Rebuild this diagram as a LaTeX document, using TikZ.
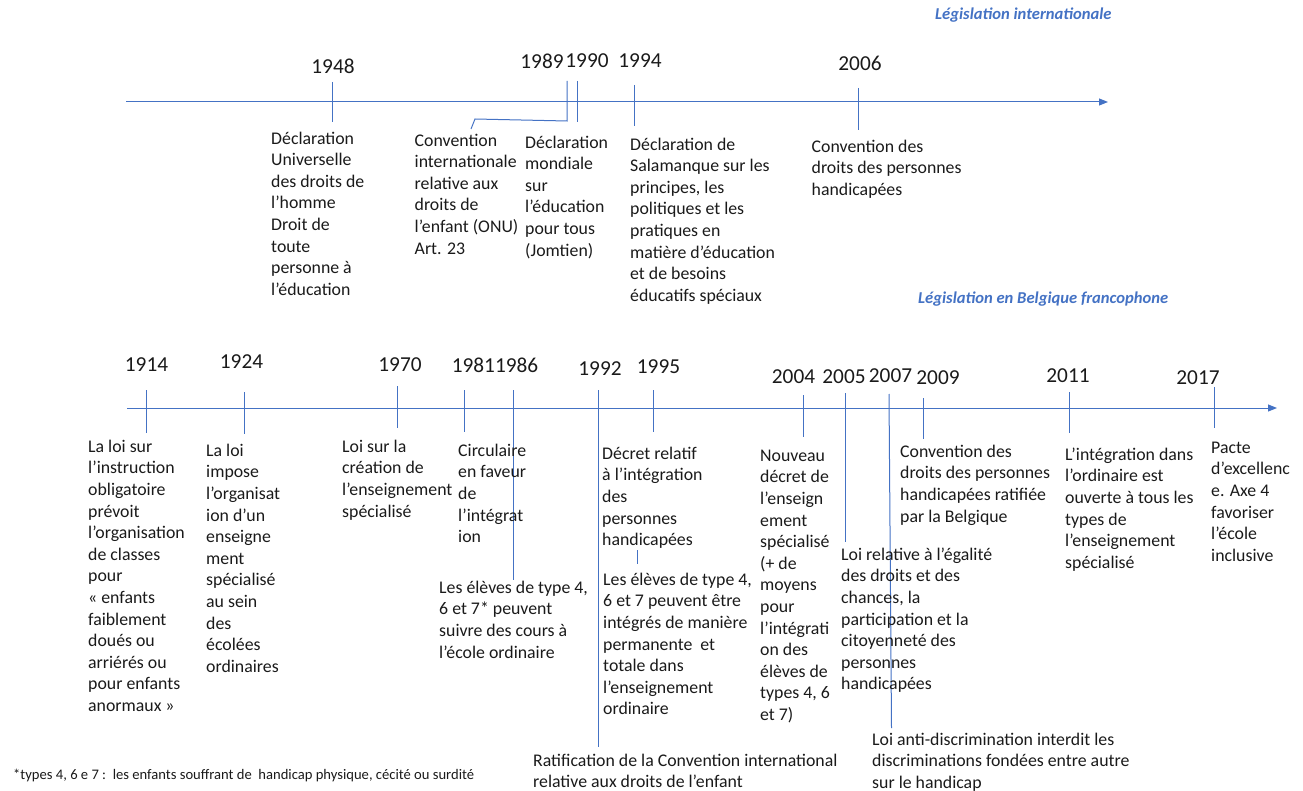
\documentclass[tikz,border=0pt]{standalone}
\usepackage{fontspec}
\setmainfont{Carlito}
\usetikzlibrary{arrows.meta}
\definecolor{lblue}{HTML}{4472C4}
\definecolor{txt}{HTML}{1A1A1A}
\tikzset{
  axisline/.style={draw=lblue, line width=1pt, -{Triangle[length=9pt,width=7pt]}},
  tickline/.style={draw=lblue, line width=1pt},
  yearlbl/.style={inner sep=0pt, font=\fontsize{21.3}{24}\selectfont, text=txt},
  desc/.style={anchor=north west, inner sep=0pt, align=left, font=\fontsize{17.8}{21.6}\selectfont, text=txt},
  legendlbl/.style={anchor=west, inner sep=0pt, font=\fontsize{16.6}{20}\selectfont\bfseries\itshape, text=lblue},
  footlbl/.style={anchor=west, inner sep=0pt, font=\fontsize{14.6}{17}\selectfont, text=txt},
}
\newcommand{\fs}{\rule{0pt}{13pt}}
\begin{document}
\begin{tikzpicture}[x=1pt,y=-1pt]
\useasboundingbox (0,0) rectangle (1303,791);

% ---------- top timeline ----------
\coordinate (TA0) at (126,102);
\coordinate (TA1) at (1108,102);
\draw[axisline] (TA0) -- (TA1);

\node[legendlbl] (LegInt) at (935,15) {Législation internationale};

\node[yearlbl] (Y1948) at (333,66) {1948};
\node[yearlbl] (Y1989) at (542,61) {1989};
\node[yearlbl] (Y1990) at (587,61) {1990};
\node[yearlbl] (Y1994) at (640,61) {1994};
\node[yearlbl] (Y2006) at (860,63) {2006};

\coordinate (t1948a) at (332,82);  \coordinate (t1948b) at (332,122);
\coordinate (t1989a) at (567,81);  \coordinate (t1989b) at (567,121);
\coordinate (t1989c) at (475,119); \coordinate (t1989d) at (471,129);
\coordinate (t1990a) at (577,81);  \coordinate (t1990b) at (577,122);
\coordinate (t1994a) at (634,85);  \coordinate (t1994b) at (634,126);
\coordinate (t2006a) at (858.5,88); \coordinate (t2006b) at (858.5,130);
\draw[tickline] (t1948a) -- (t1948b);
\draw[tickline] (t1989a) -- (t1989b) -- (t1989c) -- (t1989d);
\draw[tickline] (t1990a) -- (t1990b);
\draw[tickline] (t1994a) -- (t1994b);
\draw[tickline] (t2006a) -- (t2006b);

\node[desc] (A1948) at (271,131) {\fs Déclaration\\Universelle\\des droits de\\l’homme\\Droit de\\toute\\personne à\\l’éducation};
\node[desc] (A1989) at (414.5,133) {\fs Convention\\internationale\\relative aux\\droits de\\l’enfant (ONU)\\Art. 23};
\node[desc] (A1990) at (525,135) {\fs Déclaration\\mondiale\\sur\\l’éducation\\pour tous\\(Jomtien)};
\node[desc] (A1994) at (630,137) {\fs Déclaration de\\Salamanque sur les\\principes, les\\politiques et les\\pratiques en\\matière d’éducation\\et de besoins\\éducatifs spéciaux};
\node[desc] (A2006) at (811.5,139) {\fs Convention des\\droits des personnes\\handicapées};

% ---------- bottom timeline ----------
\node[legendlbl] (LegBel) at (918,299) {Législation en Belgique francophone};

\coordinate (BA0) at (127,408);
\coordinate (BA1) at (1277,408);
\draw[axisline] (BA0) -- (BA1);

\node[yearlbl] (Y1914) at (146.5,365) {1914};
\node[yearlbl] (Y1924) at (241.5,362) {1924};
\node[yearlbl] (Y1970) at (400,365) {1970};
\node[yearlbl] (Y1981) at (495,365) {19811986};
\node[yearlbl] (Y1992) at (600,369) {1992};
\node[yearlbl] (Y1995) at (658.5,367) {1995};
\node[yearlbl] (Y2004) at (793.5,377) {2004};
\node[yearlbl] (Y2005) at (844,377) {2005};
\node[yearlbl] (Y2007) at (890.5,376) {2007};
\node[yearlbl] (Y2009) at (938,378) {2009};
\node[yearlbl] (Y2011) at (1068,376) {2011};
\node[yearlbl] (Y2017) at (1198,378) {2017};

\coordinate (b1914a) at (146,390);  \coordinate (b1914b) at (146,433);
\coordinate (b1924a) at (244,392);  \coordinate (b1924b) at (244,434);
\coordinate (b1970a) at (397,386);  \coordinate (b1970b) at (397,428);
\coordinate (b1981a) at (464,390);  \coordinate (b1981b) at (464,432);
\coordinate (b1986a) at (513,390);  \coordinate (b1986b) at (513,580);
\coordinate (b1992a) at (598,390);  \coordinate (b1992b) at (598,747);
\coordinate (b1995a) at (653,390);  \coordinate (b1995b) at (653,432);
\coordinate (b1995c) at (637,550);  \coordinate (b1995d) at (637,564);
\coordinate (b2004a) at (803,395);  \coordinate (b2004b) at (803,437);
\coordinate (b2005a) at (845,393);  \coordinate (b2005b) at (845,542);
\coordinate (b2007a) at (889,394);  \coordinate (b2007b) at (891.5,728);
\coordinate (b2009a) at (923,398);  \coordinate (b2009b) at (923,439);
\coordinate (b2011a) at (1069.5,392); \coordinate (b2011b) at (1069.5,433);
\coordinate (b2017a) at (1214,387); \coordinate (b2017b) at (1214,428);
\foreach \t in {1914,1924,1970,1981,1986,1992,1995,2004,2005,2007,2009,2011,2017}
  {\draw[tickline] (b\t a) -- (b\t b);}
\draw[tickline] (b1995c) -- (b1995d);

\node[desc] (B1914) at (88,439) {\fs La loi sur\\l’instruction\\obligatoire\\prévoit\\l’organisation\\de classes\\pour\\« enfants\\faiblement\\doués ou\\arriérés ou\\pour enfants\\anormaux »};
\node[desc] (B1924) at (206,443) {\fs La loi\\impose\\l’organisat\\ion d’un\\enseigne\\ment\\spécialisé\\au sein\\des\\écolées\\ordinaires};
\node[desc] (B1970) at (342,439) {\fs Loi sur la\\création de\\l’enseignement\\spécialisé};
\node[desc] (B1981) at (458,443) {\fs Circulaire\\en faveur\\de\\l’intégrat\\ion};
\node[desc] (B1986) at (439,580) {\fs Les élèves de type 4,\\6 et 7* peuvent\\suivre des cours à\\l’école ordinaire};
\node[desc] (B1992) at (533,753) {\fs Ratification de la Convention international\\relative aux droits de l’enfant};
\node[desc] (B1995a) at (602,446) {\fs Décret relatif\\à l’intégration\\des\\personnes\\handicapées};
\node[desc] (B1995b) at (603,572) {\fs Les élèves de type 4,\\6 et 7 peuvent être\\intégrés de manière\\permanente\ \ et\\totale dans\\l’enseignement\\ordinaire};
\node[desc] (B2004) at (760,448) {\fs Nouveau\\décret de\\l’enseign\\ement\\spécialisé\\(+ de\\moyens\\pour\\l’intégrati\\on des\\élèves de\\types 4, 6\\et 7)};
\node[desc] (B2005) at (841,547) {\fs Loi relative à l’égalité\\des droits et des\\chances, la\\participation et la\\citoyenneté des\\personnes\\handicapées};
\node[desc] (B2007) at (872,732) {\fs Loi anti-discrimination interdit les\\discriminations fondées entre autre\\sur le handicap};
\node[desc] (B2009) at (900,444) {\fs Convention des\\droits des personnes\\handicapées ratifiée\\par la Belgique};
\node[desc] (B2011) at (1065,447) {\fs L’intégration dans\\l’ordinaire est\\ouverte à tous les\\types de\\l’enseignement\\spécialisé};
\node[desc] (B2017) at (1211,440) {\fs Pacte\\d’excellenc\\e. Axe 4\\favoriser\\l’école\\inclusive};

\node[footlbl] (Foot) at (13,775) {*types 4, 6 e 7 :\ \ les enfants souffrant de\ \ handicap physique, cécité ou surdité};
\end{tikzpicture}
\end{document}
